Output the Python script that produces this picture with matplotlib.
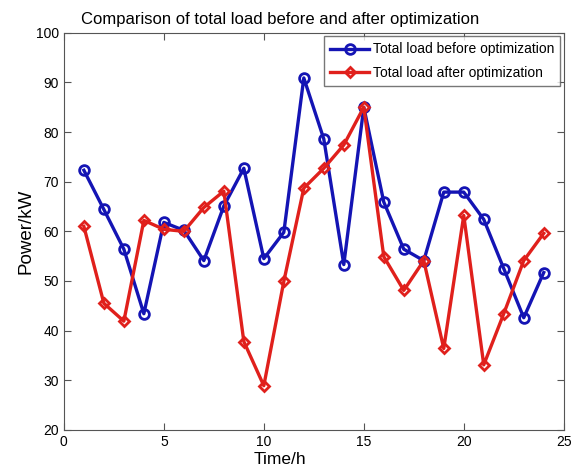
import matplotlib.pyplot as plt

hours = list(range(1, 25))
load_before = [72.3, 64.4, 56.4, 43.4, 61.8, 60.2, 54.1, 65.1, 72.7, 54.5, 59.8, 90.9,
               78.6, 53.3, 85.0, 65.9, 56.4, 54.1, 67.9, 67.9, 62.4, 52.5, 42.6, 51.7]
load_after = [61.0, 45.5, 41.9, 62.2, 60.4, 60.0, 64.8, 68.1, 37.8, 28.9, 49.9, 68.7,
              72.7, 77.4, 85.0, 54.9, 48.1, 54.1, 36.4, 63.2, 33.1, 43.4, 54.1, 59.6]

plt.rcParams['font.family'] = ['Liberation Sans', 'DejaVu Sans']

fig = plt.figure(figsize=(5.86, 4.75), dpi=100)
ax = fig.add_axes([0.109, 0.095, 0.853, 0.836])

ax.plot(hours, load_before, '-o', color='#1414b4', lw=2.4, ms=7, mew=2,
        mfc='none', label='Total load before optimization')
ax.plot(hours, load_after, '-D', color='#e0201c', lw=2.4, ms=5.5, mew=2,
        mfc='none', label='Total load after optimization')

ax.set_xlim(0, 25)
ax.set_ylim(20, 100)
ax.set_xticks(range(0, 26, 5))
ax.set_yticks(range(20, 101, 10))
ax.tick_params(direction='in', top=True, right=True, labelsize=10, length=5,
               color='#555555')
for s in ax.spines.values():
    s.set_color('#555555')

ax.set_title('Comparison of total load before and after optimization', fontsize=12,
             x=0.433, pad=6)
ax.set_xlabel('Time/h', fontsize=12.5, labelpad=2, x=0.433)
ax.set_ylabel('Power/kW', fontsize=13.5, labelpad=1)

leg = ax.legend(loc='upper right', fancybox=False, edgecolor='#555555',
                prop={'size': 10},
                borderpad=0.45, handlelength=2.8, handletextpad=0.25,
                labelspacing=0.7, borderaxespad=0.25)
leg.get_frame().set_linewidth(1.0)

fig.savefig('out.png', dpi=100)
